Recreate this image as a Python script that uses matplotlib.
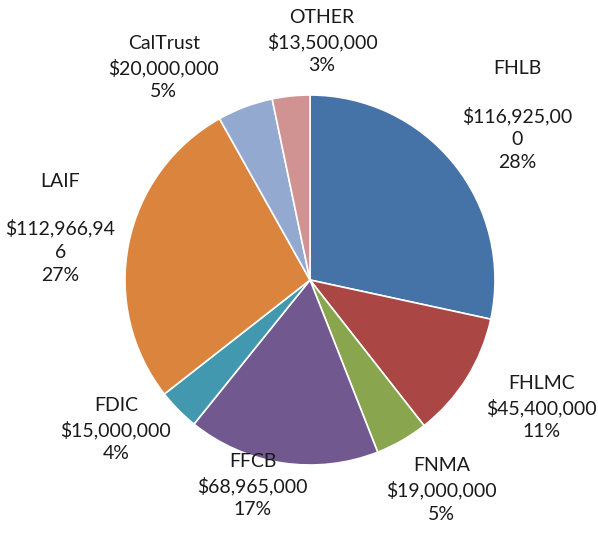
import matplotlib.pyplot as plt
import numpy as np

# holdings by issuer
names = ['FHLB', 'FHLMC', 'FNMA', 'FFCB', 'FDIC', 'LAIF', 'CalTrust', 'OTHER']
amounts = [116925000, 45400000, 19000000, 68965000, 15000000, 112966946, 20000000, 13500000]
amount_text = ['\n$116,925,00\n0', '$45,400,000', '$19,000,000', '$68,965,000',
               '$15,000,000', '\n$112,966,94\n6', '$20,000,000', '$13,500,000']
colors = ['#4572A7', '#AA4643', '#89A54E', '#71588F', '#4198AF', '#DB843D', '#93A9CF', '#D19392']

# where each label sits (pie radius = 1)
label_xy = [(1.12, 0.89), (1.25, -0.69), (0.71, -1.135), (-0.31, -1.11),
            (-1.05, -0.81), (-1.35, 0.28), (-0.79, 1.15), (0.065, 1.29)]

plt.rcParams['font.family'] = ['Lato', 'DejaVu Sans']

fig = plt.figure(figsize=(5.98, 5.51), dpi=100)
ax = fig.add_axes([0, 0, 1, 1])

ax.pie(amounts, colors=colors, startangle=90, counterclock=False,
       wedgeprops=dict(edgecolor='white', linewidth=1.2), radius=1)

total = sum(amounts)
for name, amt, txt, (x, y) in zip(names, amounts, amount_text, label_xy):
    pct = round(amt / total * 100)
    ax.text(x, y, f'{name}\n{txt}\n{pct}%', ha='center', va='center',
            fontsize=14, linespacing=1.42, color='#1a1a1a')

# place pie: center at (310, 280) px, radius 185 px
W, H = 598, 551
cx, cy, r = 310, 280, 185
ax.set_xlim(-cx / r, (W - cx) / r)
ax.set_ylim(-(H - cy) / r, cy / r)
ax.set_aspect('auto')
ax.axis('off')

fig.savefig('out.png', dpi=100)
